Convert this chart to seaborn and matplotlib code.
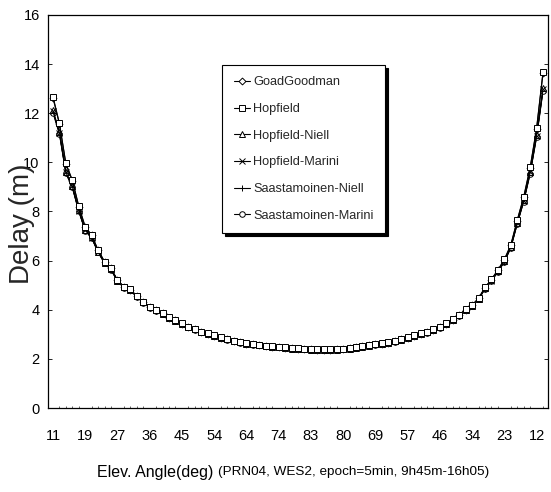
import matplotlib
matplotlib.use("Agg")
import matplotlib.pyplot as plt
import seaborn as sns
import pandas as pd

models = ["GoadGoodman", "Hopfield", "Hopfield-Niell", "Hopfield-Marini",
          "Saastamoinen-Niell", "Saastamoinen-Marini"]
elev_labels = ["11", "19", "27", "36", "45", "54", "64", "74", "83", "80",
               "69", "57", "46", "34", "23", "12"]

goad_goodman = [12.63, 11.56, 9.93, 9.26, 8.20, 7.36, 7.03, 6.42, 5.95, 5.68,
                5.20, 4.93, 4.82, 4.55, 4.32, 4.11, 3.98, 3.85, 3.68, 3.57,
                3.44, 3.30, 3.21, 3.10, 3.03, 2.95, 2.87, 2.80, 2.73, 2.68,
                2.62, 2.60, 2.57, 2.53, 2.50, 2.49, 2.46, 2.43, 2.42, 2.41,
                2.39, 2.38, 2.38, 2.38, 2.39, 2.41, 2.43, 2.47, 2.51, 2.55,
                2.60, 2.62, 2.66, 2.72, 2.79, 2.87, 2.95, 3.03, 3.10, 3.19,
                3.30, 3.44, 3.60, 3.78, 4.01, 4.18, 4.46, 4.90, 5.23, 5.61,
                6.03, 6.62, 7.63, 8.57, 9.76, 11.35, 13.64]
hopfield = [12.68, 11.59, 9.96, 9.28, 8.22, 7.38, 7.04, 6.43, 5.96, 5.69,
            5.21, 4.94, 4.83, 4.56, 4.33, 4.12, 3.99, 3.86, 3.69, 3.58,
            3.45, 3.31, 3.22, 3.11, 3.04, 2.96, 2.88, 2.81, 2.74, 2.69,
            2.63, 2.61, 2.58, 2.54, 2.51, 2.50, 2.47, 2.44, 2.43, 2.42,
            2.40, 2.39, 2.39, 2.39, 2.40, 2.42, 2.44, 2.48, 2.52, 2.56,
            2.61, 2.63, 2.67, 2.73, 2.80, 2.88, 2.96, 3.04, 3.11, 3.20,
            3.31, 3.45, 3.61, 3.79, 4.02, 4.19, 4.47, 4.91, 5.24, 5.62,
            6.05, 6.64, 7.65, 8.60, 9.80, 11.39, 13.69]
hopfield_niell = [12.12, 11.24, 9.62, 9.03, 8.05, 7.25, 6.95, 6.37, 5.92, 5.66,
                  5.19, 4.92, 4.81, 4.54, 4.31, 4.10, 3.97, 3.84, 3.67, 3.56,
                  3.43, 3.29, 3.20, 3.09, 3.02, 2.94, 2.86, 2.79, 2.72, 2.67,
                  2.61, 2.59, 2.56, 2.52, 2.49, 2.48, 2.45, 2.42, 2.41, 2.40,
                  2.38, 2.37, 2.37, 2.37, 2.38, 2.40, 2.42, 2.46, 2.50, 2.54,
                  2.59, 2.61, 2.65, 2.71, 2.78, 2.86, 2.94, 3.02, 3.09, 3.18,
                  3.29, 3.43, 3.59, 3.77, 4.00, 4.17, 4.44, 4.88, 5.20, 5.58,
                  5.99, 6.56, 7.55, 8.46, 9.62, 11.12, 13.02]
hopfield_marini = [12.09, 11.21, 9.60, 9.02, 8.04, 7.24, 6.94, 6.36, 5.91, 5.65,
                   5.18, 4.92, 4.81, 4.54, 4.31, 4.10, 3.97, 3.84, 3.67, 3.56,
                   3.43, 3.30, 3.21, 3.10, 3.03, 2.95, 2.87, 2.80, 2.73, 2.68,
                   2.62, 2.60, 2.57, 2.53, 2.50, 2.49, 2.46, 2.43, 2.42, 2.41,
                   2.39, 2.38, 2.38, 2.38, 2.39, 2.41, 2.43, 2.47, 2.51, 2.55,
                   2.60, 2.62, 2.66, 2.72, 2.79, 2.87, 2.94, 3.02, 3.09, 3.18,
                   3.29, 3.43, 3.59, 3.77, 4.00, 4.17, 4.44, 4.87, 5.19, 5.57,
                   5.98, 6.55, 7.53, 8.44, 9.59, 11.09, 12.98]
saast_niell = [12.06, 11.19, 9.58, 9.00, 8.02, 7.23, 6.93, 6.35, 5.90, 5.64,
               5.17, 4.91, 4.80, 4.53, 4.30, 4.09, 3.96, 3.83, 3.66, 3.55,
               3.42, 3.29, 3.20, 3.09, 3.02, 2.94, 2.86, 2.79, 2.72, 2.67,
               2.61, 2.59, 2.56, 2.52, 2.49, 2.48, 2.45, 2.42, 2.41, 2.40,
               2.38, 2.37, 2.37, 2.37, 2.38, 2.40, 2.42, 2.46, 2.50, 2.54,
               2.59, 2.61, 2.65, 2.71, 2.78, 2.86, 2.93, 3.01, 3.08, 3.17,
               3.28, 3.42, 3.58, 3.76, 3.99, 4.16, 4.43, 4.86, 5.18, 5.55,
               5.96, 6.53, 7.51, 8.42, 9.56, 11.06, 12.95]
saast_marini = [12.02, 11.16, 9.56, 8.98, 8.01, 7.22, 6.92, 6.34, 5.89, 5.63,
                5.16, 4.90, 4.79, 4.52, 4.29, 4.08, 3.95, 3.82, 3.65, 3.54,
                3.41, 3.28, 3.19, 3.08, 3.01, 2.93, 2.85, 2.78, 2.71, 2.66,
                2.60, 2.58, 2.55, 2.51, 2.48, 2.47, 2.44, 2.41, 2.40, 2.39,
                2.37, 2.36, 2.36, 2.36, 2.37, 2.39, 2.41, 2.45, 2.49, 2.53,
                2.58, 2.60, 2.64, 2.70, 2.77, 2.85, 2.92, 3.00, 3.07, 3.16,
                3.27, 3.41, 3.57, 3.75, 3.98, 4.15, 4.42, 4.85, 5.17, 5.54,
                5.95, 6.52, 7.50, 8.40, 9.54, 11.03, 12.92]

series_values = [goad_goodman, hopfield, hopfield_niell, hopfield_marini,
                 saast_niell, saast_marini]
markers = ["D", "s", "^", "x", "+", "o"]
msizes = [3.5, 4.2, 4.0, 4.0, 5.0, 4.0]

sns.set_theme(style="white")
plt.rcParams["font.family"] = ["Liberation Sans", "DejaVu Sans"]

fig = plt.figure(figsize=(5.51, 4.92), dpi=100)
ax = fig.add_axes([48 / 551, 84 / 492, 500 / 551, 393 / 492])

draw_order = [4, 5, 2, 3, 0, 1]
handles = {}
for k in draw_order:
    name = models[k]
    vals = series_values[k]
    df = pd.DataFrame({"epoch": list(range(len(vals))), "delay": vals})
    sns.lineplot(data=df, x="epoch", y="delay", ax=ax, color="black",
                 linewidth=0.8, marker=markers[k], markersize=msizes[k],
                 markerfacecolor="white", markeredgecolor="black",
                 markeredgewidth=0.7, label=name)
    handles[name] = ax.lines[-1]

ax.set_xlim(-0.77, 76.77)
ax.set_ylim(0, 16)
ax.set_yticks(range(0, 17, 2))
ax.set_xticks(list(range(0, 76, 5)))
ax.set_xticklabels(elev_labels)
ax.set_xticks(list(range(0, 77)), minor=True)
ax.set_xlabel("")
ax.set_ylabel("Delay (m)", fontsize=20)
ax.yaxis.set_label_coords(-0.026, 0.47)

for s in ax.spines.values():
    s.set_color("black")
    s.set_linewidth(0.9)
    s.set_visible(True)

ax.tick_params(axis="both", which="major", direction="in", length=3, width=0.6,
               colors="black", labelsize=10.5)
ax.tick_params(axis="x", which="major", pad=15)
ax.tick_params(axis="y", which="major", pad=6, right=True, left=True)
ax.tick_params(axis="x", which="minor", direction="in", length=1.5, width=0.5,
               bottom=True)

leg = ax.legend([handles[m] for m in models], models, loc="upper left",
                bbox_to_anchor=(0.348, 0.873), fontsize=9.2, frameon=True,
                fancybox=False, shadow={"color": "black", "alpha": 1},
                edgecolor="black", framealpha=1, borderpad=0.9,
                labelspacing=1.15, handlelength=1.3, handletextpad=0.25,
                borderaxespad=0)
leg.get_frame().set_linewidth(0.8)

fig.text(97 / 551, 1 - 472 / 492, "Elev. Angle(deg)", fontsize=11.5,
         ha="left", va="center", color="black")
fig.text(218 / 551, 1 - 472 / 492, "(PRN04, WES2, epoch=5min, 9h45m-16h05)",
         fontsize=9.7, ha="left", va="center", color="black")

fig.savefig("out.png", dpi=100)
